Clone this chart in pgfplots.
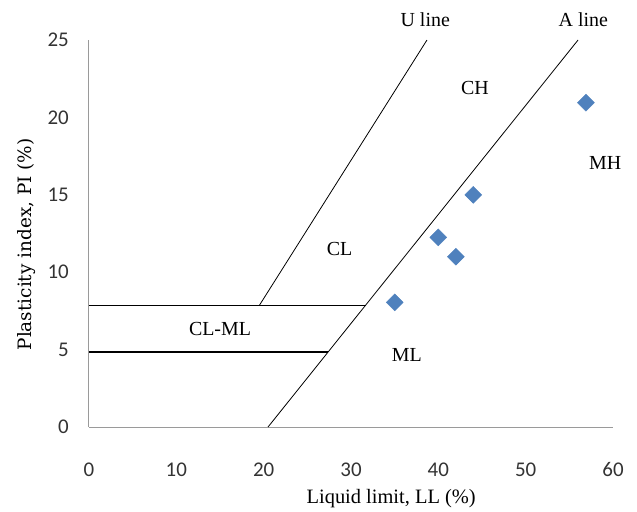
\documentclass[border=0pt]{standalone}
\usepackage{pgfplots}
\pgfplotsset{compat=1.18}
\usepackage{fontspec}
\setmainfont{Liberation Serif}
\newfontfamily\tickfont{Carlito}
\newfontfamily\ylabfont{DejaVu Serif}
\definecolor{ptblue}{HTML}{4F81BD}
\definecolor{axgray}{HTML}{9A9A9A}
\definecolor{tickcol}{HTML}{333333}
\begin{document}
\begin{tikzpicture}
\begin{axis}[
  scale only axis,
  width=524bp, height=387bp,
  xmin=0, xmax=60, ymin=0, ymax=25,
  axis x line=bottom, axis y line=left,
  axis line style={-, draw=axgray, line width=1bp},
  xtick={0,10,...,60}, ytick={0,5,...,25},
  major tick length=0pt,
  /pgf/number format/assume math mode=true,
  tick label style={font=\tickfont\fontsize{21}{25}\selectfont, text=tickcol, inner sep=0pt},
  xticklabel style={anchor=center, yshift=-43bp},
  yticklabel style={anchor=east, xshift=-20bp},
  clip=false,
]
% A line
\addplot[black, line width=0.8bp] coordinates {(20.5,0) (56.0,25)};
% U line
\addplot[black, line width=0.8bp] coordinates {(19.5,7.85) (38.7,25)};
% horizontal lines
\addplot[black, line width=1.6bp] coordinates {(0,7.85) (31.7,7.85)};
\addplot[black, line width=1.6bp] coordinates {(0,4.85) (27.4,4.85)};
% data
\addplot[only marks, mark=square*, mark size=6bp, mark options={rotate=45, fill=ptblue, draw=ptblue}]
  coordinates {(35,8.05) (40,12.25) (42,11.0) (44,15.0) (56.9,20.95)};
\begin{scope}[every node/.style={font=\fontsize{20}{24}\selectfont, inner sep=0pt}]
\node at (axis cs:38.5,26.3) {U line};
\node at (axis cs:56.6,26.3) {A line};
\node at (axis cs:44.2,21.9) {CH};
\node at (axis cs:59.1,17.05) {MH};
\node at (axis cs:28.7,11.5) {CL};
\node at (axis cs:15.0,6.3) {CL-ML};
\node at (axis cs:36.4,4.65) {ML};
\node[font=\fontsize{20.5}{24}\selectfont] at (axis cs:34.6,-4.65) {Liquid limit, LL (\%)};
\node[rotate=90, font=\ylabfont\fontsize{18.5}{22}\selectfont] at (axis cs:-7.2,11.8) {Plasticity index, PI (\%)};
\end{scope}
\end{axis}
\path (-89bp,-85bp) rectangle ++(637bp,512bp);
\end{tikzpicture}
\end{document}
